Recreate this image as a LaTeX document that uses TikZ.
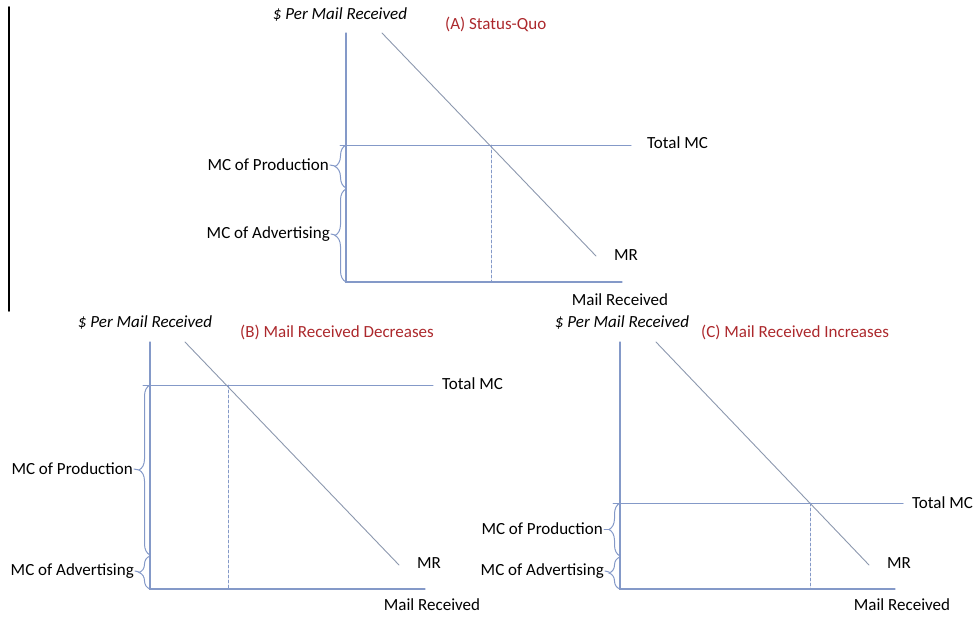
\documentclass[tikz,border=0pt]{standalone}
\usepackage{fontspec}
\setmainfont{Carlito}
\usepackage{tikz}
\usetikzlibrary{calc,decorations.pathreplacing}
\definecolor{axisblue}{RGB}{132,153,200}
\definecolor{mrgrey}{RGB}{140,152,174}
\definecolor{titlered}{RGB}{172,40,44}

\begin{document}
\begin{tikzpicture}[x=1pt,y=-1pt,line cap=round]
\tikzstyle{axes}=[draw=axisblue,line width=1.3pt]
\tikzstyle{mcline}=[draw=axisblue,line width=1pt]
\tikzstyle{mrline}=[draw=mrgrey,line width=0.9pt]
\tikzstyle{guide}=[draw=axisblue,densely dashed,line width=0.7pt]
\tikzstyle{brc}=[draw=axisblue,line width=1pt,decorate,decoration={brace,amplitude=11pt}]
\tikzstyle{txt}=[font=\fontsize{17}{20}\selectfont,inner sep=1pt]
\tikzstyle{ylab}=[txt,font=\fontsize{17}{20}\selectfont\itshape]
\tikzstyle{ttl}=[txt,text=titlered,anchor=west]
\useasboundingbox (0,0) rectangle (978,619);
% left edge
\coordinate (E1) at (9,7);
\coordinate (E2) at (9,311);
\draw[black,line width=1.6pt] (E1) to (E2);

% (A) status quo
\coordinate (Atop) at (346,33);
\coordinate (Ao) at (346,282);
\coordinate (Ax) at (622,282);
\coordinate (Ar1) at (382,33);
\coordinate (Ar2) at (596,256);
\coordinate (Am1) at (340,145);
\coordinate (Am2) at (631,145);
\coordinate (Aq1) at (491,145);
\coordinate (Aq2) at (491,282);
\coordinate (Ab1) at (346,188);
\coordinate (Ap) at (335,166);
\coordinate (Aa) at (335,235);
\draw[axes] (Atop) to (Ao) to (Ax);
\draw[mcline] (Am1) to (Am2);
\draw[mrline] (Ar1) to (Ar2);
\draw[guide] (Aq1) to (Aq2);
\draw[brc] (Ab1) to (346,145);
\draw[brc] (Ao) to (346,189);
\node[ylab] (Aylab) at (340,15) {\$ Per Mail Received};
\node[ttl] (Attl) at (444,24) {(A) Status-Quo};
\node[txt,anchor=west] (Atot) at (646,143) {Total MC};
\node[txt,anchor=west] (Amr) at (613,255) {MR};
\node[txt] (Axlab) at (620,300) {Mail Received};
\node[txt,anchor=east] (Aprod) at (330,165) {MC of Production};
\node[txt,anchor=east] (Aadv) at (331,234) {MC of Advertising};
\draw[mcline] (Ap) to (Aprod.east);
\draw[mcline] (Aa) to (Aadv.east);

% (B) mail received decreases
\coordinate (Btop) at (150,342);
\coordinate (Bo) at (150,589);
\coordinate (Bx) at (425,589);
\coordinate (Br1) at (185,342);
\coordinate (Br2) at (399,565);
\coordinate (Bm1) at (143,385);
\coordinate (Bm2) at (433,385);
\coordinate (Bq1) at (228,385);
\coordinate (Bq2) at (228,589);
\coordinate (Bb1) at (150,555);
\coordinate (Bp) at (139,470);
\coordinate (Ba) at (139,572);
\draw[axes] (Btop) to (Bo) to (Bx);
\draw[mcline] (Bm1) to (Bm2);
\draw[mrline] (Br1) to (Br2);
\draw[guide] (Bq1) to (Bq2);
\draw[brc] (Bb1) to (150,385);
\draw[brc] (Bo) to (150,556);
\node[ylab] (Bylab) at (145,323) {\$ Per Mail Received};
\node[ttl] (Bttl) at (239,332) {(B) Mail Received Decreases};
\node[txt,anchor=west] (Btot) at (441,384) {Total MC};
\node[txt,anchor=west] (Bmr) at (416,563) {MR};
\node[txt] (Bxlab) at (432,605) {Mail Received};
\node[txt,anchor=east] (Bprod) at (134,469) {MC of Production};
\node[txt,anchor=east] (Badv) at (135,571) {MC of Advertising};
\draw[mcline] (Bp) to (Bprod.east);
\draw[mcline] (Ba) to (Badv.east);

% (C) mail received increases
\coordinate (Ctop) at (620,342);
\coordinate (Co) at (620,589);
\coordinate (Cx) at (895,589);
\coordinate (Cr1) at (656,342);
\coordinate (Cr2) at (869,565);
\coordinate (Cm1) at (613,503);
\coordinate (Cm2) at (903,503);
\coordinate (Cq1) at (810,503);
\coordinate (Cq2) at (810,589);
\coordinate (Cb1) at (620,556);
\coordinate (Cp) at (609,529);
\coordinate (Ca) at (609,572);
\draw[axes] (Ctop) to (Co) to (Cx);
\draw[mcline] (Cm1) to (Cm2);
\draw[mrline] (Cr1) to (Cr2);
\draw[guide] (Cq1) to (Cq2);
\draw[brc] (Cb1) to (620,503);
\draw[brc] (Co) to (620,557);
\node[ylab] (Cylab) at (622,323) {\$ Per Mail Received};
\node[ttl] (Cttl) at (700,332) {(C) Mail Received Increases};
\node[txt,anchor=west] (Ctot) at (911,503) {Total MC};
\node[txt,anchor=west] (Cmr) at (886,563) {MR};
\node[txt] (Cxlab) at (902,605) {Mail Received};
\node[txt,anchor=east] (Cprod) at (604,529) {MC of Production};
\node[txt,anchor=east] (Cadv) at (605,571) {MC of Advertising};
\draw[mcline] (Cp) to (Cprod.east);
\draw[mcline] (Ca) to (Cadv.east);
\end{tikzpicture}
\end{document}
